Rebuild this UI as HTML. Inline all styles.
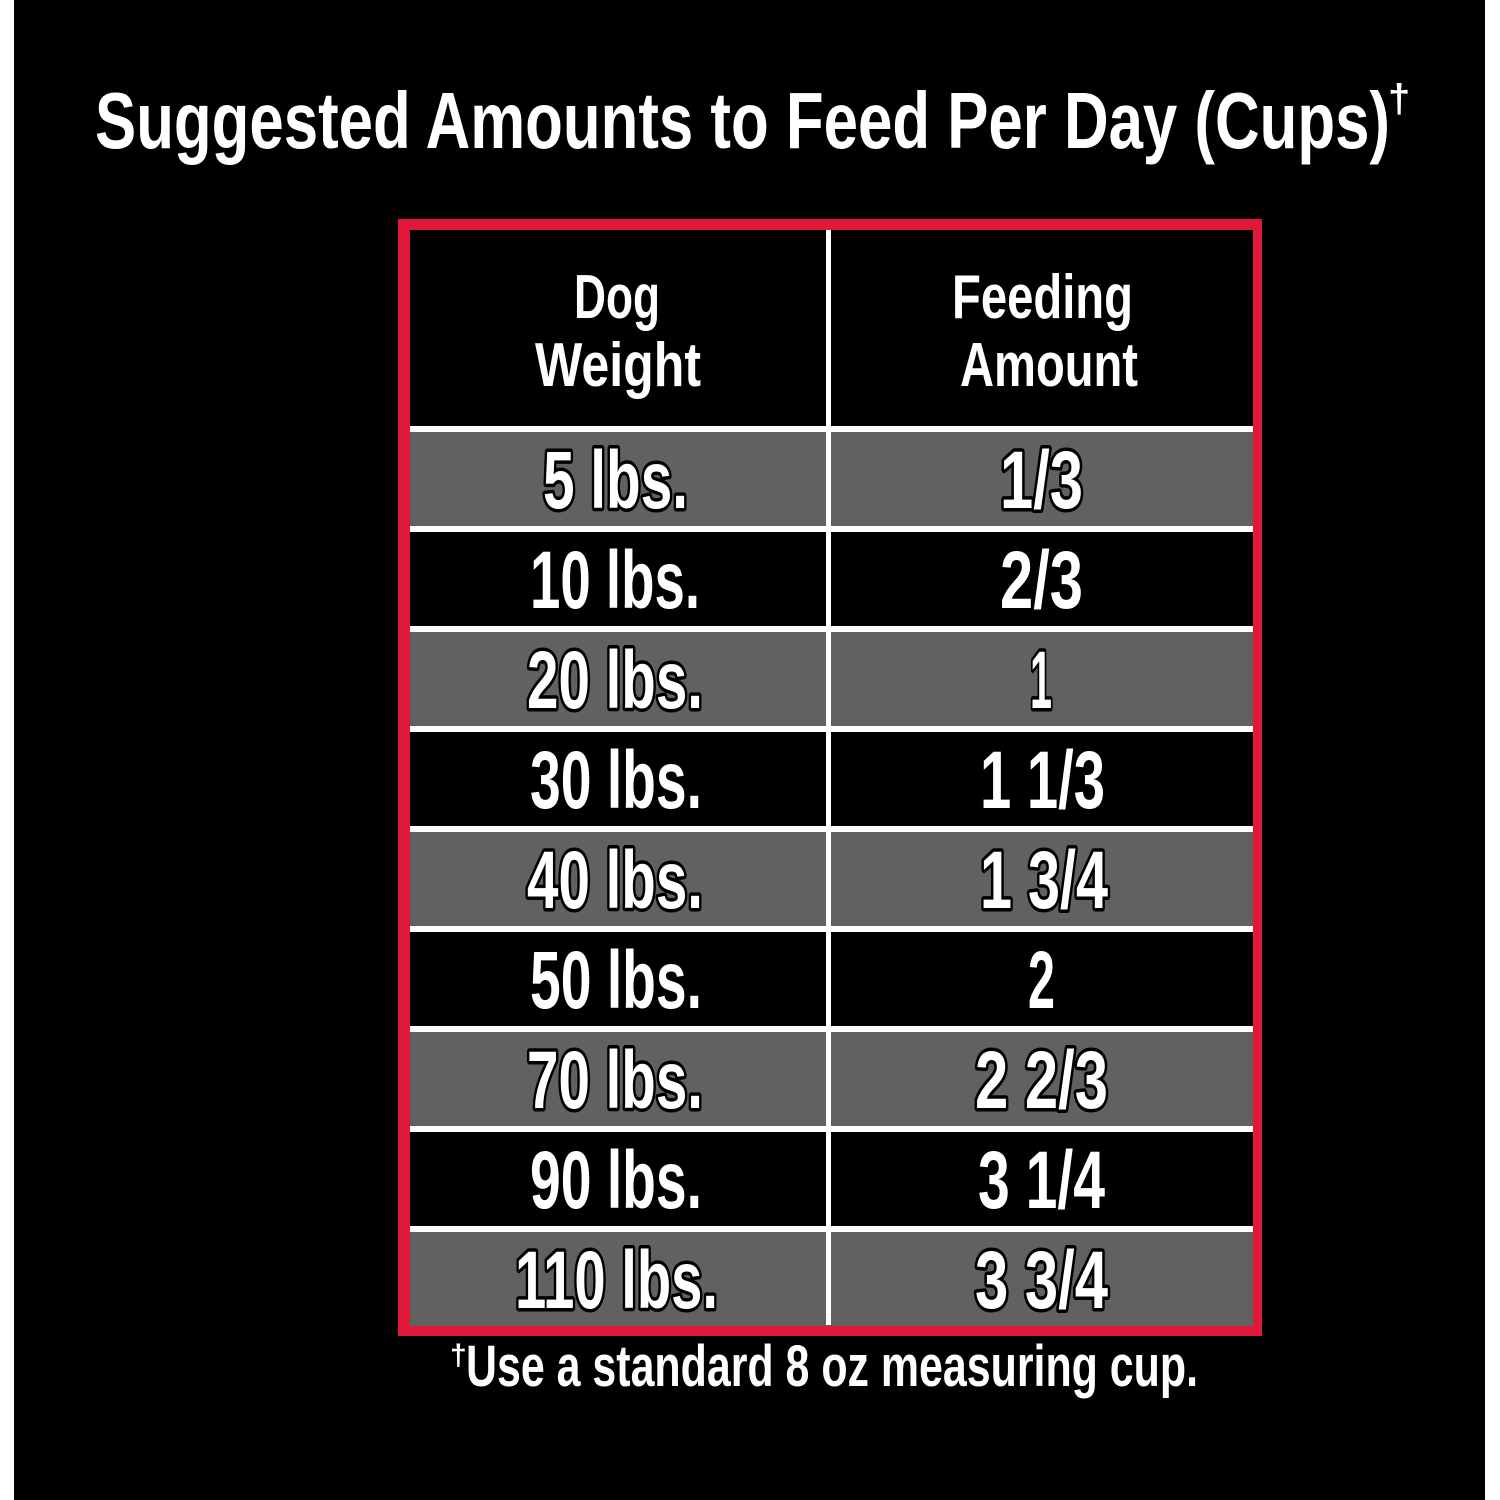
<!DOCTYPE html>
<html><head><meta charset="utf-8"><style>
html,body{margin:0;padding:0;background:#fff;}
svg{display:block}
text{font-family:"Liberation Sans",sans-serif;font-weight:bold;fill:#fff}
.o{stroke:#000;stroke-width:7;paint-order:stroke;stroke-linejoin:round}
</style></head><body>
<svg width="1500" height="1500" viewBox="0 0 1500 1500" xmlns="http://www.w3.org/2000/svg">
<rect x="0" y="0" width="1500" height="1500" fill="#fff"/>
<rect x="14" y="0" width="1471" height="1500" fill="#000"/>
<text x="95" y="148" font-size="80" textLength="1295" lengthAdjust="spacingAndGlyphs">Suggested Amounts to Feed Per Day (Cups)</text>
<text x="1388" y="112" font-size="40">†</text>
<!-- red frame -->
<rect x="398" y="219" width="864" height="1117" fill="#e0193a"/>
<rect x="410" y="230" width="843" height="1095" fill="#000"/>
<!-- rows -->
<rect x="410" y="426" width="843" height="6" fill="#fff"/>
<g fill="#616161">
<rect x="410" y="432" width="843" height="94"/>
<rect x="410" y="632" width="843" height="94"/>
<rect x="410" y="832" width="843" height="94"/>
<rect x="410" y="1032" width="843" height="94"/>
<rect x="410" y="1232" width="843" height="94"/>
</g>
<g fill="#fff">
<rect x="410" y="526" width="843" height="6"/>
<rect x="410" y="626" width="843" height="6"/>
<rect x="410" y="726" width="843" height="6"/>
<rect x="410" y="826" width="843" height="6"/>
<rect x="410" y="926" width="843" height="6"/>
<rect x="410" y="1026" width="843" height="6"/>
<rect x="410" y="1126" width="843" height="6"/>
<rect x="410" y="1226" width="843" height="6"/>
<rect x="826" y="230" width="5" height="1095"/>
</g>
<!-- header -->
<g font-size="62">
<text x="574" y="318" textLength="86" lengthAdjust="spacingAndGlyphs">Dog</text>
<text x="535" y="386" textLength="166" lengthAdjust="spacingAndGlyphs">Weight</text>
<text x="952" y="318" textLength="181" lengthAdjust="spacingAndGlyphs">Feeding</text>
<text x="960" y="386" textLength="178" lengthAdjust="spacingAndGlyphs">Amount</text>
</g>
<g font-size="82">
<text class="o" x="543" y="508" textLength="145" lengthAdjust="spacingAndGlyphs">5 lbs.</text>
<text class="o" x="1000" y="508" textLength="83" lengthAdjust="spacingAndGlyphs">1/3</text>
<text x="530" y="608" textLength="170" lengthAdjust="spacingAndGlyphs">10 lbs.</text>
<text x="1000" y="608" textLength="83" lengthAdjust="spacingAndGlyphs">2/3</text>
<text class="o" x="527" y="708" textLength="176" lengthAdjust="spacingAndGlyphs">20 lbs.</text>
<text class="o" x="1030" y="708" textLength="22" lengthAdjust="spacingAndGlyphs">1</text>
<text x="530" y="808" textLength="172" lengthAdjust="spacingAndGlyphs">30 lbs.</text>
<text x="980" y="808" textLength="125" lengthAdjust="spacingAndGlyphs">1 1/3</text>
<text class="o" x="527" y="908" textLength="176" lengthAdjust="spacingAndGlyphs">40 lbs.</text>
<text class="o" x="980" y="908" textLength="128" lengthAdjust="spacingAndGlyphs">1 3/4</text>
<text x="530" y="1008" textLength="172" lengthAdjust="spacingAndGlyphs">50 lbs.</text>
<text x="1028" y="1008" textLength="27" lengthAdjust="spacingAndGlyphs">2</text>
<text class="o" x="527" y="1108" textLength="176" lengthAdjust="spacingAndGlyphs">70 lbs.</text>
<text class="o" x="975" y="1108" textLength="133" lengthAdjust="spacingAndGlyphs">2 2/3</text>
<text x="530" y="1208" textLength="172" lengthAdjust="spacingAndGlyphs">90 lbs.</text>
<text x="978" y="1208" textLength="127" lengthAdjust="spacingAndGlyphs">3 1/4</text>
<text class="o" x="515" y="1308" textLength="203" lengthAdjust="spacingAndGlyphs">110 lbs.</text>
<text class="o" x="975" y="1308" textLength="133" lengthAdjust="spacingAndGlyphs">3 3/4</text>
</g>
<text x="450" y="1365" font-size="30">†</text>
<text x="466" y="1386" font-size="58" textLength="732" lengthAdjust="spacingAndGlyphs">Use a standard 8 oz measuring cup.</text>
</svg>
</body></html>
